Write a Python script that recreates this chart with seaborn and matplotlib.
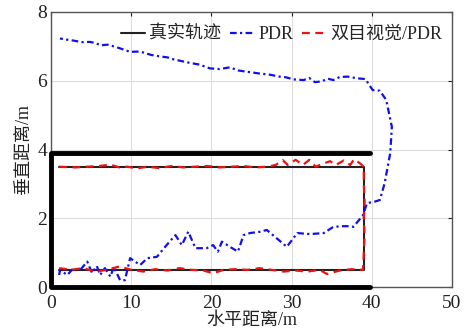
import matplotlib
matplotlib.use("Agg")
import matplotlib.pyplot as plt
import seaborn as sns
import pandas as pd

sns.set_theme(style="white")
plt.rcParams['font.family'] = ['Liberation Serif', 'Noto Sans CJK SC']
plt.rcParams['axes.unicode_minus'] = False

# ---- data ----
true_x = [1, 39, 39, 1]
true_y = [0.5, 0.5, 3.5, 3.5]
wall_x = [39.8, 0, 0, 39.8]
wall_y = [3.9, 3.9, 0, 0]

pdr_x = [1.0, 1.1, 2.0, 2.8, 3.6, 4.5, 5.1, 5.7, 6.1, 6.7, 7.4, 7.8, 8.6, 9.2, 9.85,
         11.1, 12.0, 13.2, 14.4, 15.5, 16.3, 17.1, 18.0, 19.4, 20.2, 20.8, 21.3, 22.3,
         23.3, 24.0, 24.8, 26.1, 26.9, 29.4, 30.7, 32.3, 34.0, 35.2, 36.4, 37.0, 37.7,
         38.9, 39.4, 40.3, 41.0, 41.6, 42.3, 42.5, 41.8, 41.0, 40.1, 39.2, 38.2, 37.0,
         36.0, 35.2, 34.5, 33.7, 32.9, 32.2, 31.5, 30.2, 29.3, 28.5, 27.2, 26.0, 24.5,
         23.3, 22.3, 21.0, 19.8, 18.5, 17.3, 16.1, 15.3, 14.5, 13.5, 12.5, 11.5, 11.0,
         9.85, 8.5, 7.5, 7.0, 6.2, 5.5, 4.8, 4.0, 3.2, 2.5, 1.8, 1.1]
pdr_y = [0.35, 0.50, 0.35, 0.55, 0.49, 0.74, 0.41, 0.61, 0.35, 0.55, 0.30, 0.59, 0.20, 0.20, 0.84,
         0.64, 0.84, 0.88, 1.22, 1.51, 1.22, 1.61, 1.13, 1.13, 1.22, 1.03, 1.32, 1.17,
         1.03, 1.51, 1.57, 1.61, 1.66, 1.17, 1.57, 1.54, 1.57, 1.75, 1.77, 1.77, 1.75,
         2.09, 2.44, 2.48, 2.53, 3.02, 3.90, 4.66, 5.44, 5.71, 5.73, 6.05, 6.07, 6.12,
         6.11, 6.02, 6.06, 5.98, 5.96, 6.08, 6.02, 6.04, 6.10, 6.12, 6.18, 6.21, 6.26,
         6.30, 6.39, 6.34, 6.36, 6.47, 6.52, 6.58, 6.62, 6.68, 6.71, 6.75, 6.82, 6.85,
         6.84, 6.95, 7.02, 7.05, 7.03, 7.10, 7.13, 7.12, 7.15, 7.18, 7.20, 7.23]

vis_x = [1, 2.5, 4, 5.5, 7, 8.5, 10, 11.5, 13, 14.5, 16, 17.5, 19, 20.2, 21.5, 23, 24.5, 26,
         27.5, 29, 30.5, 32, 33.5, 34.4, 36, 37.5, 38.9,
         39.0, 39.1, 39.0, 39.1, 39.0, 39.0,
         38.5, 37.8, 37.3, 36.5, 35.5, 34.8, 33.8, 33.0, 32.2, 31.4, 30.5, 29.5, 28.9, 28.0,
         27.0, 25.5, 24.0, 22.5, 21.0, 19.5, 18.0, 16.5, 15.0, 13.5, 12.0, 10.7, 9.5, 8.5,
         7.4, 6.0, 4.5, 3.0, 1.0]
vis_y = [0.55, 0.50, 0.55, 0.45, 0.50, 0.60, 0.50, 0.45, 0.52, 0.48, 0.55, 0.50, 0.48, 0.40,
         0.50, 0.52, 0.50, 0.55, 0.50, 0.45, 0.48, 0.45, 0.50, 0.38, 0.48, 0.52, 0.50,
         1.0, 1.5, 2.0, 2.5, 3.0, 3.5,
         3.60, 3.72, 3.55, 3.68, 3.55, 3.66, 3.58, 3.50, 3.70, 3.55, 3.70, 3.55, 3.69, 3.55,
         3.50, 3.48, 3.52, 3.50, 3.48, 3.52, 3.50, 3.48, 3.52, 3.46, 3.50, 3.45, 3.50, 3.48,
         3.56, 3.52, 3.50, 3.48, 3.50]

x_ticks = [0, 10, 20, 30, 40, 50]
y_ticks = [0, 2, 4, 6, 8]

fig = plt.figure(figsize=(4.65, 3.33), dpi=100)
ax = fig.add_axes([0.110, 0.138, 0.862, 0.826])

ax.grid(True, color='#dcdcdc', lw=0.8)
ax.set_axisbelow(True)

d_wall = pd.DataFrame({'x': wall_x, 'y': wall_y})
d_true = pd.DataFrame({'x': true_x, 'y': true_y})
d_pdr = pd.DataFrame({'x': pdr_x, 'y': pdr_y})
d_vis = pd.DataFrame({'x': vis_x, 'y': vis_y})

sns.lineplot(data=d_wall, x='x', y='y', sort=False, estimator=None, ax=ax,
             color='black', lw=3.5, clip_on=False, zorder=3)
sns.lineplot(data=d_true, x='x', y='y', sort=False, estimator=None, ax=ax,
             color='#222222', lw=1.5, label='真实轨迹', zorder=3)
sns.lineplot(data=d_pdr, x='x', y='y', sort=False, estimator=None, ax=ax,
             color='#1010ee', lw=1.6, linestyle=(0, (3, 1.5, 1, 1.5)), label='PDR', zorder=4)
sns.lineplot(data=d_vis, x='x', y='y', sort=False, estimator=None, ax=ax,
             color='#ee1111', lw=1.6, linestyle=(0, (3.5, 2.5)), label='双目视觉/PDR', zorder=5)

ax.set_xlim(0, 50)
ax.set_ylim(0, 8)
ax.set_xticks(x_ticks)
ax.set_yticks(y_ticks)
ax.tick_params(direction='in', length=3, width=0.8, top=True, right=True,
               labelsize=14, colors='#222222', pad=3)
ax.tick_params(axis='x', pad=6)
for s in ax.spines.values():
    s.set_visible(True)
    s.set_color('#555555')
    s.set_linewidth(1.0)

ax.set_xlabel('水平距离/m', fontsize=13, color='#222222', labelpad=0)
ax.set_ylabel('垂直距离/m', fontsize=13, color='#222222', labelpad=4)

ax.legend(loc='upper center', bbox_to_anchor=(0.575, 0.995), ncol=3, frameon=False,
          fontsize=13, handlelength=1.3, handletextpad=0.25, columnspacing=0.5,
          borderaxespad=0.3)

fig.savefig('out.png', dpi=100)
